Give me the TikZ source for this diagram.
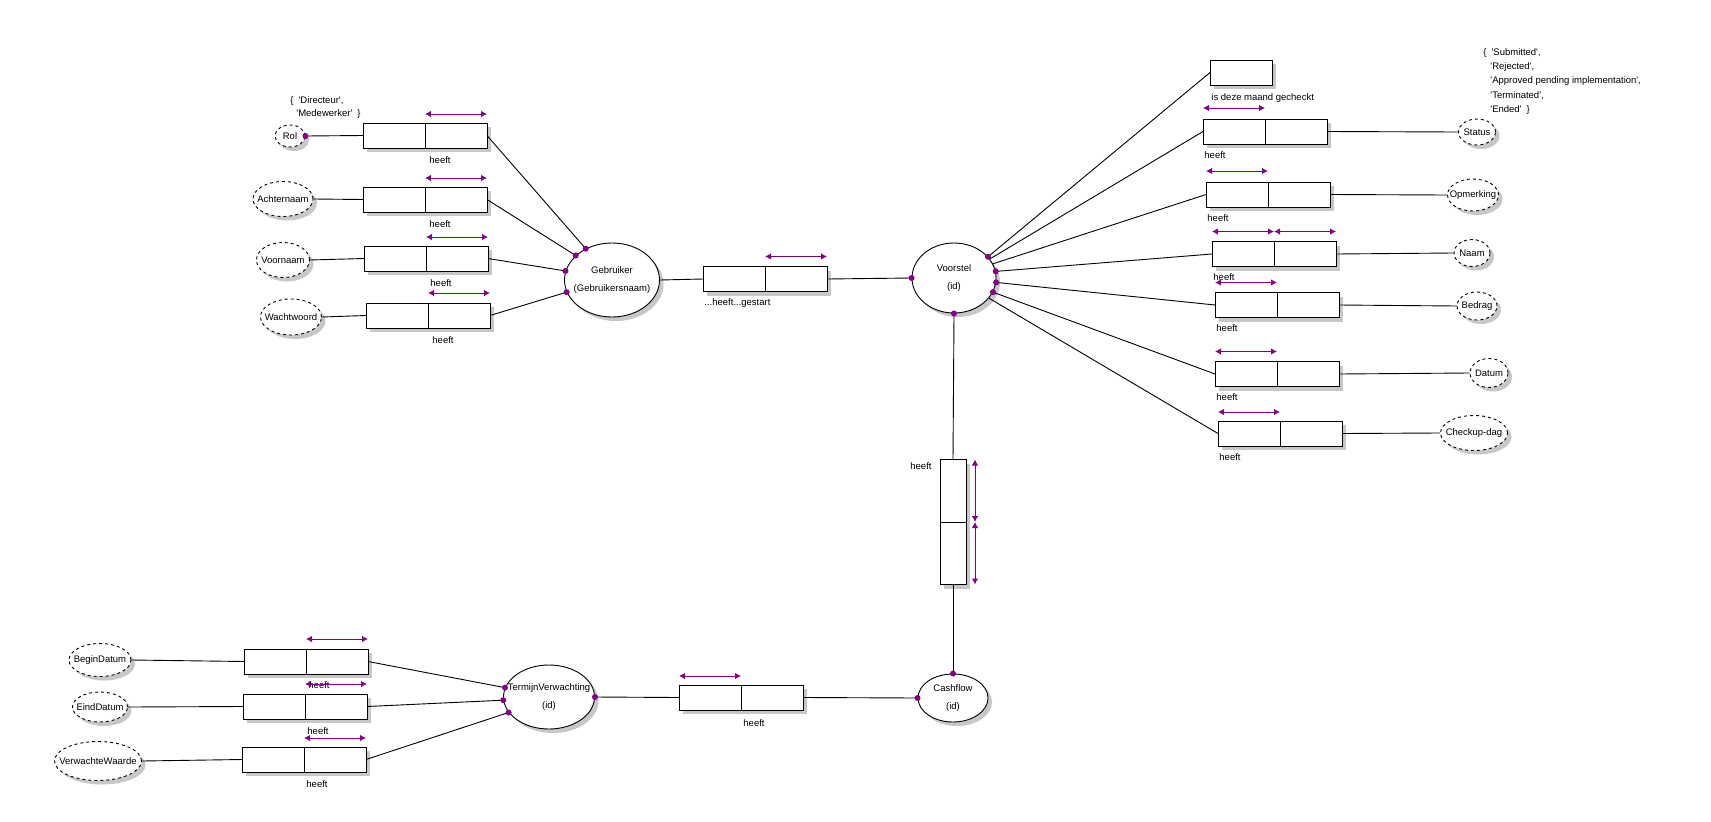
\documentclass[tikz,border=0pt]{standalone}
\usepackage{fontspec}
\newfontfamily\ormfont{Liberation Sans}
\usepackage{tikz}
\usetikzlibrary{positioning,shapes.geometric,shadows,arrows.meta}
\definecolor{ormpurple}{RGB}{128,0,128}
\newcommand{\entfont}{\ormfont\fontsize{9.5}{18.5}\selectfont}

\begin{document}
\begin{tikzpicture}[x=1pt, y=-1pt, line width=0.9pt, font=\ormfont\fontsize{9.5}{13}\selectfont]
  \tikzstyle{shadowed}=[drop shadow={shadow xshift=4pt, shadow yshift=-4pt, fill=black!22, opacity=1}]
  \tikzstyle{ent}=[ellipse, draw, fill=white, inner sep=0pt, shadowed]
  \tikzstyle{val}=[ent, dashed]
  \tikzstyle{cell}=[rectangle, draw, fill=white, minimum width=62pt, minimum height=25pt,
                    inner sep=0pt, outer sep=0pt, shadowed]
  \tikzstyle{vcell}=[cell, minimum width=26pt, minimum height=62.5pt]
  \tikzstyle{uc}=[{Latex[length=6pt,width=6.5pt]}-{Latex[length=6pt,width=6.5pt]}, color=ormpurple, line width=1pt]
  \tikzstyle{rdot}=[fill=ormpurple]
  \tikzstyle{heeft}=[inner sep=1pt]
  \useasboundingbox (0,0) rectangle (1711,822);

  % entity types
  \node[ent, minimum width=95pt, minimum height=74pt,
        label={[align=center,font=\entfont]center:Gebruiker\\(Gebruikersnaam)}] (geb) at (612,280) {};
  \node[ent, minimum width=84pt, minimum height=70pt,
        label={[align=center,font=\entfont]center:Voorstel\\(id)}] (voor) at (954,278) {};
  \node[ent, minimum width=70pt, minimum height=48pt,
        label={[align=center,font=\entfont]center:Cashflow\\(id)}] (cash) at (953,698) {};
  \node[ent, minimum width=91pt, minimum height=64pt,
        label={[align=center,font=\entfont]center:TermijnVerwachting\\(id)}] (tv) at (549,697) {};

  % value types
  \node[val, minimum width=30pt, minimum height=22pt, label=center:Rol] (rol) at (290,136) {};
  \node[val, minimum width=60pt, minimum height=35pt, label=center:Achternaam] (achter) at (283,199) {};
  \node[val, minimum width=53pt, minimum height=35pt, label=center:Voornaam] (voorn) at (283,260) {};
  \node[val, minimum width=61pt, minimum height=36pt, label=center:Wachtwoord] (wacht) at (291,317) {};
  \node[val, minimum width=37pt, minimum height=26pt, label=center:Status] (status) at (1477,132) {};
  \node[val, minimum width=51pt, minimum height=32pt, label=center:Opmerking] (opm) at (1473,195) {};
  \node[val, minimum width=36pt, minimum height=27pt, label=center:Naam] (naam) at (1472,253) {};
  \node[val, minimum width=40pt, minimum height=28pt, label=center:Bedrag] (bedrag) at (1477,306) {};
  \node[val, minimum width=38pt, minimum height=29pt, label=center:Datum] (datum) at (1489,373) {};
  \node[val, minimum width=67pt, minimum height=35pt, label=center:Checkup-dag] (checkup) at (1474,433) {};
  \node[val, minimum width=62pt, minimum height=33pt, label=center:BeginDatum] (begin) at (100,660) {};
  \node[val, minimum width=55pt, minimum height=30pt, label=center:EindDatum] (eind) at (100,707) {};
  \node[val, minimum width=87pt, minimum height=39pt, label=center:VerwachteWaarde] (verw) at (98,761) {};

  % value constraints
  \node[anchor=north west, align=left, inner sep=0pt] (rolvals) at (290,96)
    {\{\hspace{5pt}'Directeur',\\\hspace{6pt}'Medewerker'\hspace{5pt}\}};
  \node[anchor=north west, align=left, inner sep=0pt, font=\ormfont\fontsize{9.5}{14.3}\selectfont] (statvals) at (1483,48)
    {\{\hspace{5pt}'Submitted',\\\hspace{7pt}'Rejected',\\\hspace{7pt}'Approved pending implementation',\\\hspace{7pt}'Terminated',\\\hspace{7pt}'Ended'\hspace{5pt}\}};

  % fact types: Gebruiker
  \node[cell] (rolA) at (394,135.5) {};
  \node[cell, right=0pt of rolA] (rolB) {};
  \node[heeft, below=7.5pt of rolA.south east, xshift=15pt] (rolL) {heeft};
  \node[cell] (achA) at (394,199.5) {};
  \node[cell, right=0pt of achA] (achB) {};
  \node[heeft, below=7.5pt of achA.south east, xshift=15pt] (achL) {heeft};
  \node[cell] (voornA) at (395,258.5) {};
  \node[cell, right=0pt of voornA] (voornB) {};
  \node[heeft, below=7.5pt of voornA.south east, xshift=15pt] (voornL) {heeft};
  \node[cell] (wachtA) at (397,315.5) {};
  \node[cell, right=0pt of wachtA] (wachtB) {};
  \node[heeft, below=7.5pt of wachtA.south east, xshift=15pt] (wachtL) {heeft};

  % ...heeft...gestart
  \node[cell] (startA) at (734,279) {};
  \node[cell, right=0pt of startA] (startB) {};
  \node[heeft, below=6pt of startA.south west, anchor=north west] (startL) {...heeft...gestart};

  % fact types: Voorstel
  \node[cell] (check) at (1241,72.5) {};
  \node[heeft, below=7pt of check.south west, anchor=north west] (checkL) {is deze maand gecheckt};
  \node[cell] (statA) at (1234,131.5) {};
  \node[cell, right=0pt of statA] (statB) {};
  \node[heeft, below=6pt of statA.south west, anchor=north west] (statL) {heeft};
  \node[cell] (opmA) at (1237,194.5) {};
  \node[cell, right=0pt of opmA] (opmB) {};
  \node[heeft, below=6pt of opmA.south west, anchor=north west] (opmL) {heeft};
  \node[cell] (naamA) at (1243,254) {};
  \node[cell, right=0pt of naamA] (naamB) {};
  \node[heeft, below=6pt of naamA.south west, anchor=north west] (naamL) {heeft};
  \node[cell] (bedA) at (1246,305) {};
  \node[cell, right=0pt of bedA] (bedB) {};
  \node[heeft, below=6pt of bedA.south west, anchor=north west] (bedL) {heeft};
  \node[cell] (datA) at (1246,374) {};
  \node[cell, right=0pt of datA] (datB) {};
  \node[heeft, below=6pt of datA.south west, anchor=north west] (datL) {heeft};
  \node[cell] (chkA) at (1249,433.5) {};
  \node[cell, right=0pt of chkA] (chkB) {};
  \node[heeft, below=6pt of chkA.south west, anchor=north west] (chkL) {heeft};

  % Voorstel - Cashflow
  \node[vcell] (cfA) at (953,490.75) {};
  \node[vcell, below=0pt of cfA] (cfB) {};
  \node[heeft, left=7pt of cfA.north west, anchor=north east, yshift=-2pt] (cfL) {heeft};

  % TermijnVerwachting
  \node[cell] (tvA) at (710,697.5) {};
  \node[cell, right=0pt of tvA] (tvB) {};
  \node[heeft, below=8pt of tvA.south east, xshift=13pt] (tvL) {heeft};
  \node[cell] (begA) at (275,661.5) {};
  \node[cell, right=0pt of begA] (begB) {};
  \node[heeft, below=6.5pt of begA.south east, xshift=13pt] (begL) {heeft};
  \node[cell] (eindA) at (274,706.5) {};
  \node[cell, right=0pt of eindA] (eindB) {};
  \node[heeft, below=7.5pt of eindA.south east, xshift=13pt] (eindL) {heeft};
  \node[cell] (verwA) at (273,759.5) {};
  \node[cell, right=0pt of verwA] (verwB) {};
  \node[heeft, below=7.5pt of verwA.south east, xshift=13pt] (verwL) {heeft};

  % uniqueness constraints
  \draw[uc] ([yshift=9pt]rolB.north west) -- ([yshift=9pt]rolB.north east);
  \draw[uc] ([yshift=9pt]achB.north west) -- ([yshift=9pt]achB.north east);
  \draw[uc] ([yshift=9pt]voornB.north west) -- ([yshift=9pt]voornB.north east);
  \draw[uc] ([yshift=10pt]wachtB.north west) -- ([yshift=10pt]wachtB.north east);
  \draw[uc] ([yshift=10pt]startB.north west) -- ([yshift=10pt]startB.north east);
  \draw[uc] ([yshift=11pt]statA.north west) -- ([yshift=11pt]statA.north east);
  \draw[uc] ([yshift=11pt]opmA.north west) -- ([yshift=11pt]opmA.north east);
  \draw[uc] ([yshift=10pt]naamA.north west) -- ([yshift=10pt]naamA.north east);
  \draw[uc] ([yshift=10pt]naamB.north west) -- ([yshift=10pt]naamB.north east);
  \draw[uc] ([yshift=10pt]bedA.north west) -- ([yshift=10pt]bedA.north east);
  \draw[uc] ([yshift=10pt]datA.north west) -- ([yshift=10pt]datA.north east);
  \draw[uc] ([yshift=9pt]chkA.north west) -- ([yshift=9pt]chkA.north east);
  \draw[uc] ([xshift=9pt]cfA.north east) -- ([xshift=9pt]cfA.south east);
  \draw[uc] ([xshift=9pt]cfB.north east) -- ([xshift=9pt]cfB.south east);
  \draw[uc] ([yshift=9pt]tvA.north west) -- ([yshift=9pt]tvA.north east);
  \draw[uc] ([yshift=10pt]begB.north west) -- ([yshift=10pt]begB.north east);
  \draw[uc] ([yshift=10pt]eindB.north west) -- ([yshift=10pt]eindB.north east);
  \draw[uc] ([yshift=9pt]verwB.north west) -- ([yshift=9pt]verwB.north east);

  % role connectors
  \draw (rol.east) -- (rolA.west);    \draw (rolB.east) -- (geb.130);
  \draw (achter.east) -- (achA.west); \draw (achB.east) -- (geb.146);
  \draw (voorn.east) -- (voornA.west); \draw (voornB.east) -- (geb.169);
  \draw (wacht.east) -- (wachtA.west); \draw (wachtB.east) -- (geb.195);
  \draw (geb.east) -- (startA.west);  \draw (startB.east) -- (voor.west);
  \draw (check.west) -- (voor.32);
  \draw (statA.west) -- (voor.28);    \draw (statB.east) -- (status.west);
  \draw (opmA.west) -- (voor.20);     \draw (opmB.east) -- (opm.west);
  \draw (naamA.west) -- (voor.9);     \draw (naamB.east) -- (naam.west);
  \draw (bedA.west) -- (voor.-6);     \draw (bedB.east) -- (bedrag.west);
  \draw (datA.west) -- (voor.-20);    \draw (datB.east) -- (datum.west);
  \draw (chkA.west) -- (voor.-30);    \draw (chkB.east) -- (checkup.west);
  \draw (voor.south) -- (cfA.north);  \draw (cfB.south) -- (cash.north);
  \draw (tv.east) -- (tvA.west);      \draw (tvB.east) -- (cash.west);
  \draw (begin.east) -- (begA.west);  \draw (begB.east) -- (tv.168);
  \draw (eind.east) -- (eindA.west);  \draw (eindB.east) -- (tv.184);
  \draw (verw.east) -- (verwA.west);  \draw (verwB.east) -- (tv.201);

  % mandatory dots
  \fill[rdot] (rol.east) circle (3pt);
  \fill[rdot] (geb.130) circle (3pt);
  \fill[rdot] (geb.146) circle (3pt);
  \fill[rdot] (geb.169) circle (3pt);
  \fill[rdot] (geb.195) circle (3pt);
  \fill[rdot] (voor.west) circle (3pt);
  \fill[rdot] (voor.32) circle (3pt);
  \fill[rdot] (voor.9) circle (3pt);
  \fill[rdot] (voor.-6) circle (3pt);
  \fill[rdot] (voor.-20) circle (3pt);
  \fill[rdot] (voor.south) circle (3pt);
  \fill[rdot] (cash.north) circle (3pt);
  \fill[rdot] (cash.west) circle (3pt);
  \fill[rdot] (tv.east) circle (3pt);
  \fill[rdot] (tv.168) circle (3pt);
  \fill[rdot] (tv.184) circle (3pt);
  \fill[rdot] (tv.201) circle (3pt);
\end{tikzpicture}
\end{document}
